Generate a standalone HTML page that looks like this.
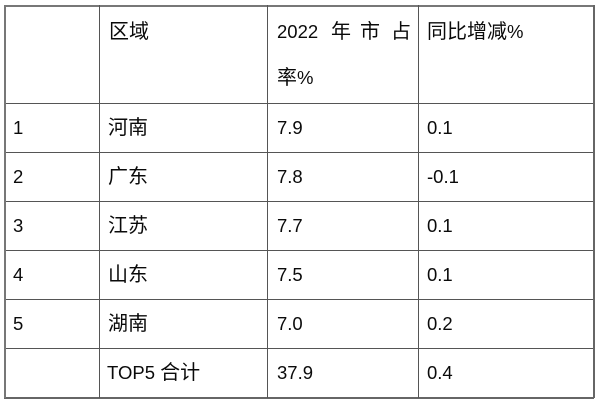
<!DOCTYPE html>
<html><head><meta charset="utf-8"><style>
html,body{margin:0;padding:0;background:#fff;}
body{width:600px;height:404px;position:relative;overflow:hidden;font-family:"Liberation Sans","Noto Sans CJK SC",sans-serif;color:#0a0a0a;}
.h{position:absolute;height:1px;background:#555;}
.v{position:absolute;width:1px;background:#555;}
.t{position:absolute;height:24px;line-height:24px;font-size:18.5px;white-space:nowrap;}
.c{font-size:20px;}
</style></head><body>
<!-- horizontal lines -->
<div class="h" style="left:4px;width:590px;top:5px;height:2px;background:#777"></div>
<div class="h" style="left:4px;width:590px;top:103px"></div>
<div class="h" style="left:4px;width:590px;top:152px"></div>
<div class="h" style="left:4px;width:590px;top:201px"></div>
<div class="h" style="left:4px;width:590px;top:250px"></div>
<div class="h" style="left:4px;width:590px;top:299px"></div>
<div class="h" style="left:4px;width:590px;top:348px"></div>
<div class="h" style="left:4px;width:590px;top:397px;height:2px;background:#666"></div>
<!-- vertical lines -->
<div class="v" style="left:4px;top:5px;height:393px;width:2px;background:#777"></div>
<div class="v" style="left:99px;top:5px;height:393px"></div>
<div class="v" style="left:267px;top:5px;height:393px"></div>
<div class="v" style="left:418px;top:5px;height:393px"></div>
<div class="v" style="left:593px;top:5px;height:393px;width:2px;background:#666"></div>

<!-- header -->
<div class="t c" style="left:109px;top:20px">区域</div>
<div class="t" style="left:277px;top:20px">2022</div>
<div class="t c" style="left:331px;top:20px">年</div>
<div class="t c" style="left:360px;top:20px">市</div>
<div class="t c" style="left:391px;top:20px">占</div>
<div class="t" style="left:277px;top:66px"><span class="c">率</span>%</div>
<div class="t" style="left:427px;top:20px"><span class="c">同比增减</span>%</div>

<!-- rows -->
<div class="t" style="left:13px;top:116px">1</div>
<div class="t c" style="left:108px;top:116px">河南</div>
<div class="t" style="left:277px;top:116px">7.9</div>
<div class="t" style="left:427px;top:116px">0.1</div>

<div class="t" style="left:13px;top:165px">2</div>
<div class="t c" style="left:108px;top:165px">广东</div>
<div class="t" style="left:277px;top:165px">7.8</div>
<div class="t" style="left:427px;top:165px">-0.1</div>

<div class="t" style="left:13px;top:214px">3</div>
<div class="t c" style="left:108px;top:214px">江苏</div>
<div class="t" style="left:277px;top:214px">7.7</div>
<div class="t" style="left:427px;top:214px">0.1</div>

<div class="t" style="left:13px;top:263px">4</div>
<div class="t c" style="left:108px;top:263px">山东</div>
<div class="t" style="left:277px;top:263px">7.5</div>
<div class="t" style="left:427px;top:263px">0.1</div>

<div class="t" style="left:13px;top:312px">5</div>
<div class="t c" style="left:108px;top:312px">湖南</div>
<div class="t" style="left:277px;top:312px">7.0</div>
<div class="t" style="left:427px;top:312px">0.2</div>

<div class="t" style="left:107px;top:361px">TOP5 <span class="c">合计</span></div>
<div class="t" style="left:277px;top:361px">37.9</div>
<div class="t" style="left:427px;top:361px">0.4</div>
</body></html>
